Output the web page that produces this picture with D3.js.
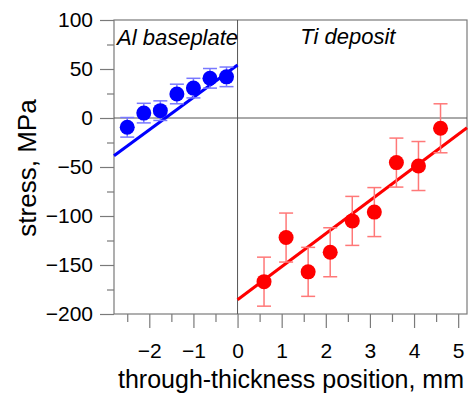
<!DOCTYPE html>
<html>
<head>
<meta charset="utf-8">
<script src="https://cdn.jsdelivr.net/npm/d3@7"></script>
<style>
  body { margin: 0; background: #fff; }
  text { font-family: "Liberation Sans", Arial, sans-serif; fill: #000; }
</style>
</head>
<body>
<div id="chart"></div>
<script>
// Al baseplate measurements
const alX = [-2.5, -2.125, -1.75, -1.375, -1.0, -0.625, -0.25];
const alY = [-9.5, 5, 7.5, 24.5, 30.5, 40.5, 42];
const alErr = [10, 10, 10, 10, 10, 10, 10];
const alFit = [[-2.8, -38.5], [0, 54]];

// Ti deposit measurements
const tiX = [0.6, 1.1, 1.6, 2.1, 2.6, 3.1, 3.6, 4.1, 4.6];
const tiY = [-167, -122, -157, -137, -105, -96, -45.5, -49, -10.5];
const tiErr = [25, 25, 25, 25, 25, 25, 25, 25, 25];
const tiFit = [[0, -185.5], [5.2, -10]];

const xMajor = [-2, -1, 0, 1, 2, 3, 4, 5];
const xMinor = [-2.5, -1.5, -0.5, 0.5, 1.5, 2.5, 3.5, 4.5];
const yMajor = [-200, -150, -100, -50, 0, 50, 100];
const yMinor = [-175, -125, -75, -25, 25, 75];

const fullWidth = 471;
const fullHeight = 397;
const margin = { top: 20, right: 4, bottom: 83, left: 114 };
const width = fullWidth - margin.left - margin.right;
const height = fullHeight - margin.top - margin.bottom;

const svg = d3.select('#chart')
  .append('svg')
  .attr('width', fullWidth)
  .attr('height', fullHeight);

const g = svg.append('g')
  .attr('transform', `translate(${margin.left}, ${margin.top})`);

const x = d3.scaleLinear().domain([-2.8, 5.2]).range([0, width]);
const y = d3.scaleLinear().domain([-200, 100]).range([height, 0]);

const grey = '#7a7a7a';

// axes
const xAxis = g.append('g')
  .attr('transform', `translate(0, ${height})`)
  .call(d3.axisBottom(x).tickValues(xMajor).tickSize(14).tickPadding(15));
g.append('g')
  .attr('transform', `translate(0, ${height})`)
  .call(d3.axisBottom(x).tickValues(xMinor).tickSize(8).tickFormat(''));

const yAxis = g.append('g')
  .call(d3.axisLeft(y).tickValues(yMajor).tickSize(14).tickPadding(7));
g.append('g')
  .call(d3.axisLeft(y).tickValues(yMinor).tickSize(7).tickFormat(''));

g.selectAll('.domain').remove();
g.selectAll('.tick line').attr('stroke', grey).attr('stroke-width', 1.2);
g.selectAll('.tick text').style('font-size', '21px').attr('fill', '#000');

// frame and zero lines
g.append('rect')
  .attr('width', width)
  .attr('height', height)
  .attr('fill', 'none')
  .attr('stroke', grey)
  .attr('stroke-width', 1.2);

g.append('line')
  .attr('x1', x(0)).attr('x2', x(0))
  .attr('y1', 0).attr('y2', height)
  .attr('stroke', '#555').attr('stroke-width', 1);
g.append('line')
  .attr('x1', 0).attr('x2', width)
  .attr('y1', y(0)).attr('y2', y(0))
  .attr('stroke', '#555').attr('stroke-width', 1);

const line = d3.line().x(d => x(d[0])).y(d => y(d[1]));

function drawSeries(xs, ys, errs, fit, color, barColor) {
  const data = xs.map((v, i) => ({ x: v, y: ys[i], e: errs[i] }));

  g.append('path')
    .datum(fit)
    .attr('d', line)
    .attr('stroke', color)
    .attr('stroke-width', 3)
    .attr('fill', 'none');

  const bars = g.append('g')
    .attr('stroke', barColor)
    .attr('stroke-width', 1.5);
  bars.selectAll('.v').data(data).join('line')
    .attr('x1', d => x(d.x)).attr('x2', d => x(d.x))
    .attr('y1', d => y(d.y - d.e)).attr('y2', d => y(d.y + d.e));
  bars.selectAll('.t').data(data).join('line')
    .attr('x1', d => x(d.x) - 7).attr('x2', d => x(d.x) + 7)
    .attr('y1', d => y(d.y + d.e)).attr('y2', d => y(d.y + d.e));
  bars.selectAll('.b').data(data).join('line')
    .attr('x1', d => x(d.x) - 7).attr('x2', d => x(d.x) + 7)
    .attr('y1', d => y(d.y - d.e)).attr('y2', d => y(d.y - d.e));

  g.append('g').selectAll('circle').data(data).join('circle')
    .attr('cx', d => x(d.x))
    .attr('cy', d => y(d.y))
    .attr('r', 7.5)
    .attr('fill', color);
}

drawSeries(alX, alY, alErr, alFit, '#0000ff', '#7878ff');
drawSeries(tiX, tiY, tiErr, tiFit, '#ff0000', '#ff7878');

// labels
g.append('text')
  .attr('x', 3).attr('y', 25)
  .style('font-size', '22px').style('font-style', 'italic')
  .text('Al baseplate');
g.append('text')
  .attr('x', x(1.42)).attr('y', 24)
  .style('font-size', '22px').style('font-style', 'italic')
  .text('Ti deposit');

svg.append('text')
  .attr('x', 291).attr('y', 388)
  .attr('text-anchor', 'middle')
  .style('font-size', '25px')
  .text('through-thickness position, mm');

svg.append('text')
  .attr('transform', 'translate(36, 168) rotate(-90)')
  .attr('text-anchor', 'middle')
  .style('font-size', '26px')
  .text('stress, MPa');
</script>
</body>
</html>
